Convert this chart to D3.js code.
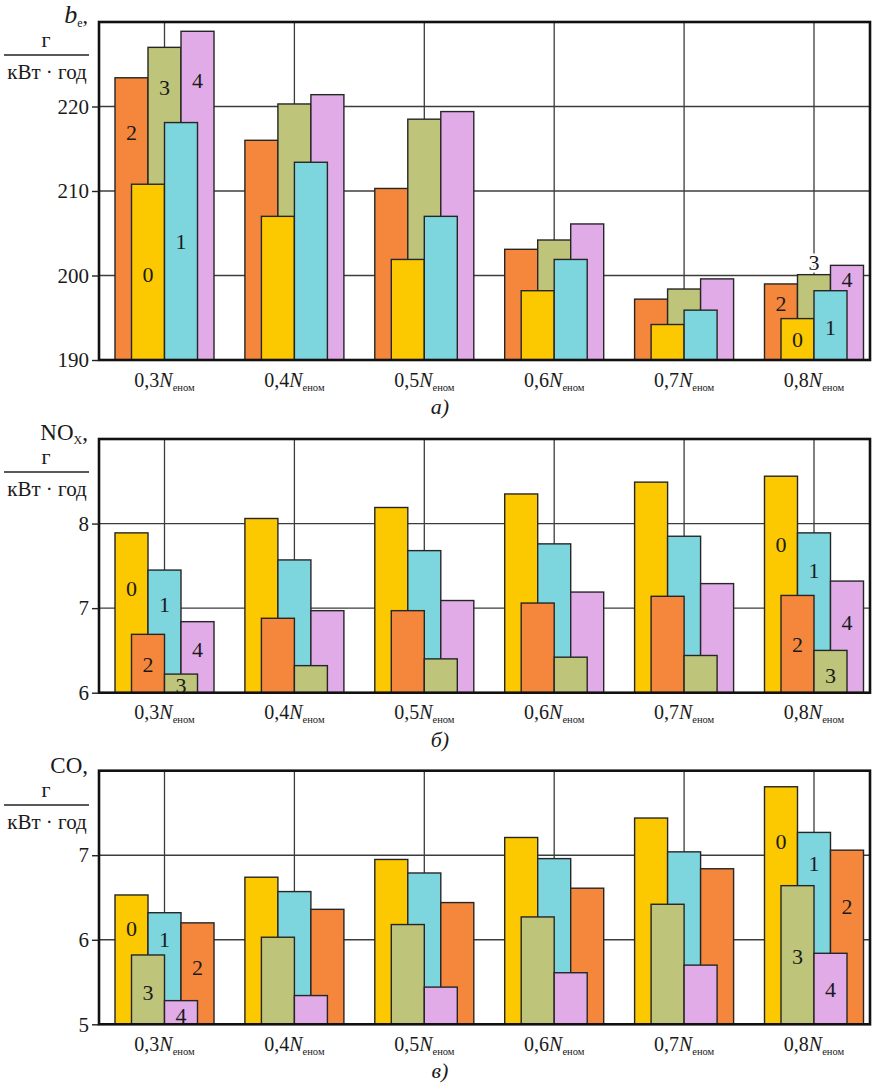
<!DOCTYPE html>
<html>
<head>
<meta charset="utf-8">
<script src="https://cdn.jsdelivr.net/npm/d3@7"></script>
<style>
  html, body { margin: 0; padding: 0; background: #fff; }
  svg { display: block; }
  svg text { font-family: "Liberation Serif", "DejaVu Serif", "Noto Serif", Times, serif !important; fill: #1a1a1a; }
</style>
</head>
<body>
<svg id="chart" width="880" height="1083"></svg>
<script>
// ---------------- DATA ----------------
const categories = ["0,3", "0,4", "0,5", "0,6", "0,7", "0,8"];

// a) specific fuel consumption b_e, g/(kW·h) — series 0..4
const be0 = [210.8, 207.0, 201.9, 198.2, 194.2, 194.9];
const be1 = [218.1, 213.4, 207.0, 201.9, 195.9, 198.2];
const be2 = [223.4, 216.0, 210.3, 203.1, 197.2, 199.0];
const be3 = [227.0, 220.3, 218.5, 204.2, 198.4, 200.1];
const be4 = [228.9, 221.4, 219.4, 206.1, 199.6, 201.2];
const beTicks = [190, 200, 210, 220];
const beDomain = [190, 230];

// b) NOx, g/(kW·h)
const nox0 = [7.89, 8.06, 8.19, 8.35, 8.49, 8.56];
const nox1 = [7.45, 7.57, 7.68, 7.76, 7.85, 7.89];
const nox2 = [6.69, 6.88, 6.97, 7.06, 7.14, 7.15];
const nox3 = [6.22, 6.32, 6.40, 6.42, 6.44, 6.50];
const nox4 = [6.84, 6.97, 7.09, 7.19, 7.29, 7.32];
const noxTicks = [6, 7, 8];
const noxDomain = [6, 9];

// c) CO, g/(kW·h)
const co0 = [6.53, 6.74, 6.95, 7.21, 7.44, 7.81];
const co1 = [6.32, 6.57, 6.79, 6.96, 7.04, 7.27];
const co2 = [6.20, 6.36, 6.44, 6.61, 6.84, 7.06];
const co3 = [5.82, 6.03, 6.18, 6.27, 6.42, 6.64];
const co4 = [5.28, 5.34, 5.44, 5.61, 5.70, 5.84];
const coTicks = [5, 6, 7];
const coDomain = [5, 8];

// series numbers and the left-to-right slot order in each panel
const seriesNames = ["0", "1", "2", "3", "4"];
const beSlots = [2, 0, 3, 1, 4];
const noxSlots = [0, 2, 1, 3, 4];
const coSlots = [0, 3, 1, 4, 2];

// value level at which each series number is written (first and last group)
const beLabelFirst = [200.2, 204.0, 216.9, 222.3, 223.1];
const beLabelLast = [192.4, 193.9, 196.7, 201.6, 199.5];
const noxLabelFirst = [7.24, 7.04, 6.33, 6.09, 6.51];
const noxLabelLast = [7.76, 7.45, 6.57, 6.21, 6.83];
const coLabelFirst = [6.14, 6.00, 5.67, 5.38, 5.11];
const coLabelLast = [7.16, 6.91, 6.39, 5.80, 5.41];

// ---------------- STYLE ----------------
const colors = ["#FCC800", "#7DD5DD", "#F5873D", "#BFC47B", "#E0ABE7"];
const FONT = "'Liberation Serif', 'DejaVu Serif', 'Noto Serif', Times, serif";

const svg = d3.select("#chart").attr("font-family", FONT);
const left = 99, right = 870;
const barW = 33;

const x = d3.scalePoint().domain(categories).range([164.5, 814]);

function drawPanel(cfg) {
  const g = svg.append("g");
  const y = d3.scaleLinear().domain(cfg.domain).range([cfg.bottom, cfg.top]);
  const series = [cfg.s0, cfg.s1, cfg.s2, cfg.s3, cfg.s4];

  // grid
  g.append("g").selectAll("line.h").data(cfg.ticks.filter(t => t !== cfg.domain[0]))
    .join("line")
    .attr("x1", left).attr("x2", right)
    .attr("y1", d => y(d)).attr("y2", d => y(d))
    .attr("stroke", "#3c3c3c").attr("stroke-width", 1.3);
  g.append("g").selectAll("line.v").data(categories)
    .join("line")
    .attr("x1", d => x(d)).attr("x2", d => x(d))
    .attr("y1", cfg.top).attr("y2", cfg.bottom)
    .attr("stroke", "#3c3c3c").attr("stroke-width", 1.3);

  // bars: slots 0,2,4 behind, 1,3 in front
  const drawOrder = [0, 2, 4, 1, 3];
  const bars = [];
  drawOrder.forEach(slot => {
    const s = cfg.slots[slot];
    categories.forEach((c, i) => {
      bars.push({ slot, s, c, v: series[s][i] });
    });
  });
  const slotX = (c, slot) => x(c) + (slot - 2) * barW / 2;
  g.append("g").selectAll("rect").data(bars)
    .join("rect")
    .attr("x", d => slotX(d.c, d.slot) - barW / 2)
    .attr("width", barW)
    .attr("y", d => y(d.v))
    .attr("height", d => y(cfg.domain[0]) - y(d.v))
    .attr("fill", d => colors[d.s])
    .attr("stroke", "#262626").attr("stroke-width", 1.4);

  // series labels
  const labels = [];
  cfg.slots.forEach((s, slot) => {
    labels.push({ s, slot, c: categories[0], v: cfg.labFirst[s] });
    labels.push({ s, slot, c: categories[categories.length - 1], v: cfg.labLast[s] });
  });
  g.append("g").selectAll("text").data(labels)
    .join("text")
    .attr("x", d => slotX(d.c, d.slot))
    .attr("y", d => y(d.v))
    .attr("dy", "0.35em")
    .attr("text-anchor", "middle")
    .attr("font-size", 22)
    .attr("paint-order", "stroke")
    .attr("stroke", d => (d.v > series[d.s][categories.indexOf(d.c)]) ? "#fff" : "none")
    .attr("stroke-width", 5)
    .text(d => seriesNames[d.s]);

  // frame
  g.append("rect")
    .attr("x", left).attr("y", cfg.top)
    .attr("width", right - left).attr("height", cfg.bottom - cfg.top)
    .attr("fill", "none").attr("stroke", "#111").attr("stroke-width", 2.6);

  // y axis
  const ax = d3.axisLeft(y).tickValues(cfg.ticks).tickSize(7).tickPadding(3).tickFormat(d => d);
  const axg = g.append("g").attr("transform", `translate(${left},0)`).call(ax)
    .attr("font-family", FONT);
  axg.select(".domain").remove();
  axg.selectAll(".tick line").attr("stroke", "#222").attr("stroke-width", 1.4);
  axg.selectAll(".tick text")
    .attr("font-size", 21).attr("fill", "#1a1a1a");

  // x labels
  const xl = g.append("g").selectAll("text").data(categories)
    .join("text")
    .attr("x", d => x(d))
    .attr("y", cfg.bottom + 26.5)
    .attr("text-anchor", "middle")
    .attr("font-size", 20);
  xl.append("tspan").text(d => d);
  xl.append("tspan").attr("font-style", "italic").text("N");
  xl.append("tspan").attr("font-size", 10.5).attr("dy", 4).text("еном");

  // caption
  g.append("text")
    .attr("x", 440).attr("y", cfg.bottom + 54)
    .attr("text-anchor", "middle")
    .attr("font-size", 22).attr("font-style", "italic")
    .text(cfg.caption);

  // y title
  const t = g.append("text").attr("x", 88).attr("y", cfg.titleY).attr("text-anchor", "end");
  cfg.title(t);
  g.append("text").attr("x", 46).attr("y", cfg.titleY + 24).attr("text-anchor", "middle")
    .attr("font-size", 22).text("г");
  g.append("line").attr("x1", 4).attr("x2", 89)
    .attr("y1", cfg.titleY + 32).attr("y2", cfg.titleY + 32)
    .attr("stroke", "#222").attr("stroke-width", 1.4);
  g.append("text").attr("x", 47).attr("y", cfg.titleY + 56).attr("text-anchor", "middle")
    .attr("font-size", 21).text("кВт · год");
}

drawPanel({
  top: 22, bottom: 360, domain: beDomain, ticks: beTicks,
  s0: be0, s1: be1, s2: be2, s3: be3, s4: be4, slots: beSlots,
  labFirst: beLabelFirst, labLast: beLabelLast, caption: "а)", titleY: 23,
  title: t => {
    t.append("tspan").attr("font-style", "italic").attr("font-size", 26).text("b");
    t.append("tspan").attr("font-size", 12).attr("dy", 4).text("е");
    t.append("tspan").attr("font-size", 22).attr("dy", -4).text(",");
  }
});
drawPanel({
  top: 439, bottom: 692.7, domain: noxDomain, ticks: noxTicks,
  s0: nox0, s1: nox1, s2: nox2, s3: nox3, s4: nox4, slots: noxSlots,
  labFirst: noxLabelFirst, labLast: noxLabelLast, caption: "б)", titleY: 440,
  title: t => {
    t.append("tspan").attr("font-size", 23).text("NO");
    t.append("tspan").attr("font-size", 12).attr("dy", 4).text("X");
    t.append("tspan").attr("font-size", 23).attr("dy", -4).text(",");
  }
});
drawPanel({
  top: 770.7, bottom: 1024.3, domain: coDomain, ticks: coTicks,
  s0: co0, s1: co1, s2: co2, s3: co3, s4: co4, slots: coSlots,
  labFirst: coLabelFirst, labLast: coLabelLast, caption: "в)", titleY: 773,
  title: t => {
    t.append("tspan").attr("font-size", 23).text("CO,");
  }
});
</script>
</body>
</html>
